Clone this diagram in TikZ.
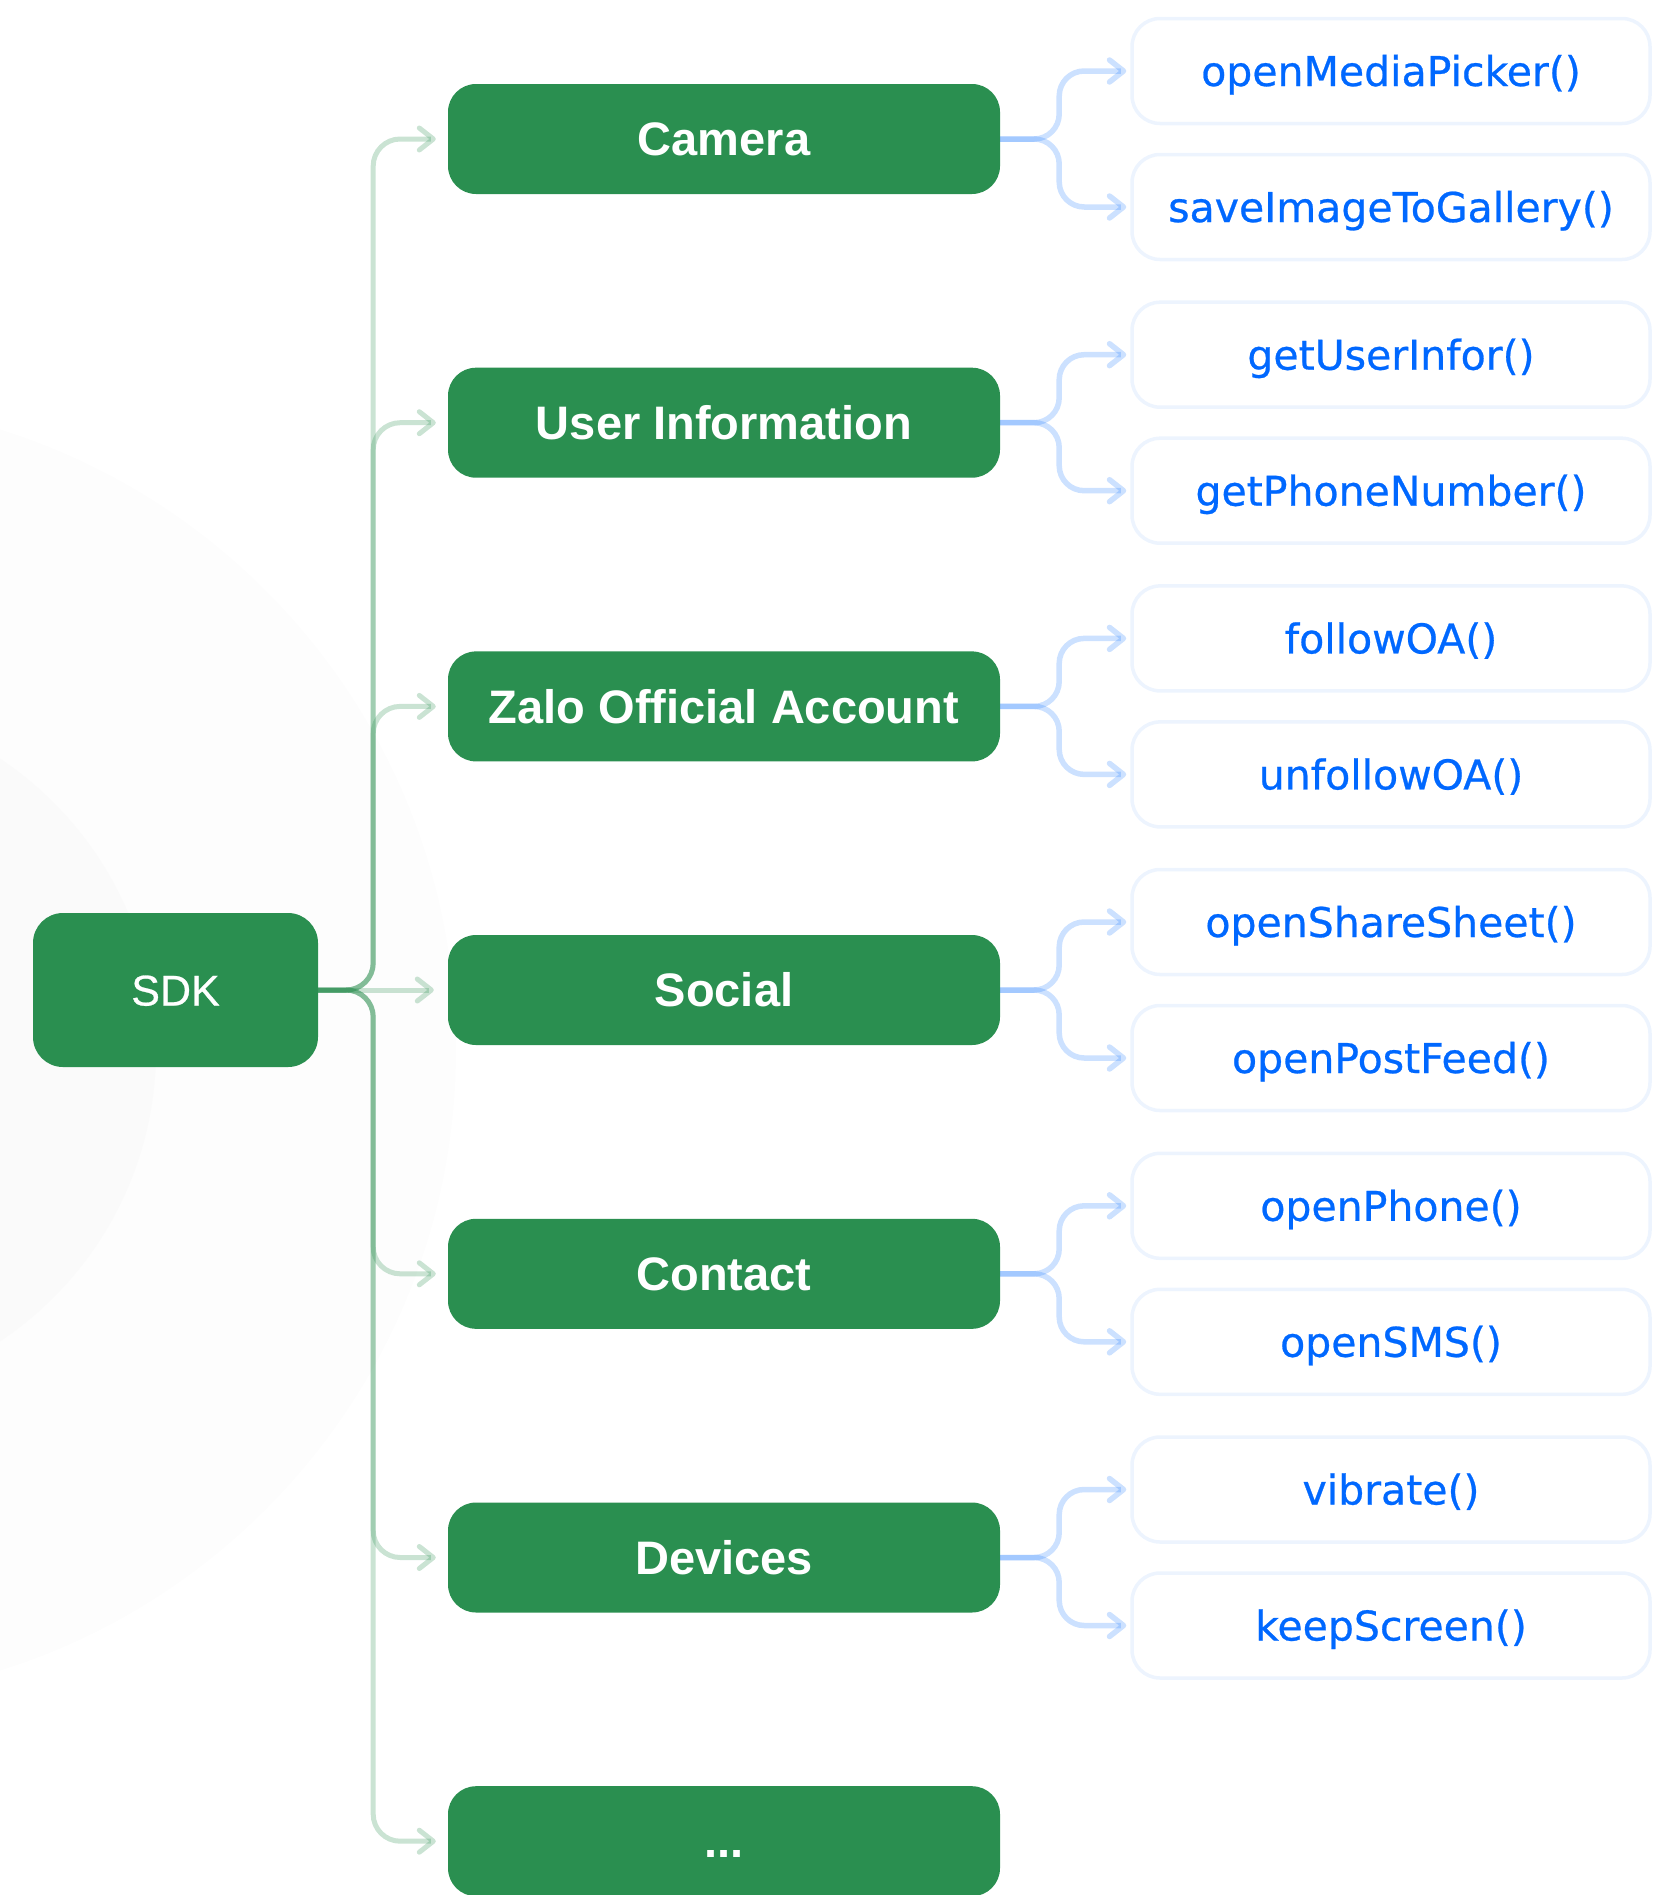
\documentclass[tikz,border=0pt]{standalone}
\usepackage{fontspec}
\setmainfont{Liberation Sans}
\newfontfamily\catfont{Liberation Sans}
\newfontfamily\sdkfont{Liberation Sans}[FakeBold=0.6]
\newfontfamily\fnfont{DejaVu Sans}[FakeBold=0.6]
\usetikzlibrary{arrows.meta}
\definecolor{zgreen}{HTML}{2A8F50}
\definecolor{zblue}{HTML}{0068FF}
\definecolor{fborder}{HTML}{EDF4FE}
\begin{document}
\begin{tikzpicture}[x=1pt,y=-1pt,
  catbox/.style={fill=zgreen, rounded corners=28pt, minimum width=552pt, minimum height=110pt,
    text=white, font=\catfont\bfseries\fontsize{47}{52}\selectfont, inner sep=0pt,
    text height=33.5pt, text depth=0pt},
  sdkbox/.style={fill=zgreen, rounded corners=30pt, minimum width=285pt, minimum height=154pt,
    text=white, font=\sdkfont\fontsize{43}{48}\selectfont, inner sep=0pt,
    text height=31pt, text depth=0pt},
  fnbox/.style={draw=fborder, line width=3.5pt, fill=white, rounded corners=28pt,
    minimum width=518pt, minimum height=105pt, text=zblue,
    font=\fnfont\fontsize{41}{46}\selectfont, inner sep=0pt,
    text height=30pt, text depth=0pt},
  glink/.style={draw=zgreen, draw opacity=0.25, line width=5pt, rounded corners=27pt,
    -{Straight Barb[length=14pt,width=22pt,round]}},
  blink/.style={draw=zblue, draw opacity=0.2, line width=5.5pt, rounded corners=25pt,
    -{Straight Barb[length=14pt,width=22pt,round]}}
]
\useasboundingbox (0,0) rectangle (1656,1895);
\begin{scope}
  \clip (0,0) rectangle (1656,1895);
  \fill[black!0.9] (-194,1050) circle (650pt);
  \fill[black!1.8] (-194,1050) circle (350pt);
\end{scope}

% root
\node[sdkbox] (sdk) at (175.5,990) {SDK};

% categories
\node[catbox] (cam)  at (724,139)    {Camera};
\node[catbox] (usr)  at (724,422.7)  {User Information};
\node[catbox] (zoa)  at (724,706.4)  {Zalo Official Account};
\node[catbox] (soc)  at (724,990)    {Social};
\node[catbox] (con)  at (724,1273.8) {Contact};
\node[catbox] (dev)  at (724,1557.5) {Devices};
\node[catbox] (more) at (724,1841.2) {...};

% functions
\node[fnbox] (f1)  at (1391,71)      {openMediaPicker()};
\node[fnbox] (f2)  at (1391,207)     {saveImageToGallery()};
\node[fnbox] (f3)  at (1391,354.7)   {getUserInfor()};
\node[fnbox] (f4)  at (1391,490.7)   {getPhoneNumber()};
\node[fnbox] (f5)  at (1391,638.4)   {followOA()};
\node[fnbox] (f6)  at (1391,774.4)   {unfollowOA()};
\node[fnbox] (f7)  at (1391,922)     {openShareSheet()};
\node[fnbox] (f8)  at (1391,1058)    {openPostFeed()};
\node[fnbox] (f9)  at (1391,1205.8)  {openPhone()};
\node[fnbox] (f10) at (1391,1341.8)  {openSMS()};
\node[fnbox] (f11) at (1391,1489.5)  {vibrate()};
\node[fnbox] (f12) at (1391,1625.5)  {keepScreen()};

% SDK -> categories
\foreach \c in {cam,usr,zoa,con,dev,more}{
  \draw[glink] (sdk.east) -- ++(55,0) |- ([xshift=-12pt]\c.west);
}
\draw[glink] (sdk.east) -- ([xshift=-14pt]soc.west);

% categories -> functions
\foreach \c/\a/\b in {cam/f1/f2, usr/f3/f4, zoa/f5/f6, soc/f7/f8, con/f9/f10, dev/f11/f12}{
  \draw[blink] (\c.east) -- ++(59,0) |- ([xshift=-4pt]\a.west);
  \draw[blink] (\c.east) -- ++(59,0) |- ([xshift=-4pt]\b.west);
}
\end{tikzpicture}
\end{document}
